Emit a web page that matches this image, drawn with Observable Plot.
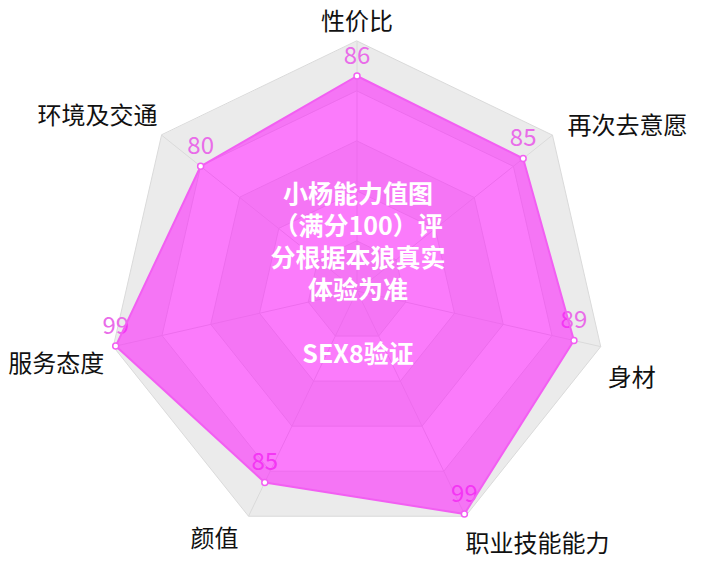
<!DOCTYPE html>
<html>
<head>
<meta charset="utf-8">
<script src="https://cdn.jsdelivr.net/npm/d3@7"></script>
<script src="https://cdn.jsdelivr.net/npm/@observablehq/plot@0.6"></script>
<style>
  html, body { margin: 0; padding: 0; background: #fff; }
  #chart { width: 707px; height: 583px; }
</style>
</head>
<body>
<div id="chart"></div>
<script>
// ---- data ----
const axes = ["性价比", "再次去意愿", "身材", "职业技能能力", "颜值", "服务态度", "环境及交通"];
const values = [86, 85, 89, 99, 85, 99, 80];
const levels = [100, 80, 60, 40, 20];
const maxValue = 100;
const titleLines = ["小杨能力值图", "（满分100）评", "分根据本狼真实", "体验为准", "", "SEX8验证"];

// ---- layout ----
const W = 707, H = 583;
const cx = 356.5, cy = 290.5, R = 250;
const k = R / maxValue; // pixels per unit
const font = "'Noto Sans CJK SC', 'Noto Sans', sans-serif";

function polar(i, v) {
  const a = 2 * Math.PI * i / axes.length;
  return { x: Math.sin(a) * v, y: Math.cos(a) * v };
}

const ringMarks = levels.map((L, j) => {
  const pts = axes.map((name, i) => ({ level: L, ...polar(i, L) }));
  return Plot.line(pts, {
    x: "x", y: "y", curve: "linear-closed",
    fill: j % 2 === 0 ? "#ebebeb" : "#f7f7f7",
    stroke: "#dadada", strokeWidth: 1
  });
});

const spokes = axes.map((name, i) => ({ name, x1: 0, y1: 0, ...polar(i, maxValue) }));
const dataPts = axes.map((name, i) => ({ name, value: values[i], ...polar(i, values[i]) }));

// axis-name placement relative to the outer vertex (pixels)
const nameLayout = [
  { anchor: "middle", dx: 0, dy: -20 },
  { anchor: "start", dx: 15, dy: -10 },
  { anchor: "start", dx: 7, dy: 31 },
  { anchor: "start", dx: 0, dy: 27 },
  { anchor: "end", dx: -10, dy: 22 },
  { anchor: "end", dx: -9, dy: 17 },
  { anchor: "end", dx: -4, dy: -20 }
];
const nameMarks = spokes.map((s, i) => Plot.text([s], {
  x: "x", y: "y", text: "name",
  textAnchor: nameLayout[i].anchor,
  dx: nameLayout[i].dx, dy: nameLayout[i].dy + 1,
  fontSize: 24, fill: "#111", fontFamily: font
}));

const chart = Plot.plot({
  width: W, height: H,
  margin: 0,
  x: { domain: [-cx / k, (W - cx) / k], axis: null },
  y: { domain: [(cy - H) / k, cy / k], axis: null },
  style: { fontFamily: font, background: "white", overflow: "visible" },
  marks: [
    ...ringMarks,
    Plot.link(spokes, { x1: "x1", y1: "y1", x2: "x", y2: "y", stroke: "#dadada", strokeWidth: 1 }),
    Plot.text(dataPts, {
      x: "x", y: "y", text: d => String(d.value), dy: -20,
      fontSize: 24, fill: "#e96ce9", fontFamily: font
    }),
    Plot.line(dataPts, {
      x: "x", y: "y", curve: "linear-closed",
      fill: "#ff00ff", fillOpacity: 0.5, stroke: "#f25ff2", strokeWidth: 2
    }),
    Plot.dot(dataPts, { x: "x", y: "y", r: 3, fill: "white", stroke: "#f25ff2", strokeWidth: 1.5 }),
    ...nameMarks,
    Plot.text([titleLines.join("\n")], {
      frameAnchor: "top", lineAnchor: "top", dx: 4, dy: 180,
      lineHeight: 32 / 25, fontSize: 25, fontWeight: "bold",
      fill: "white", fontFamily: font
    })
  ]
});
document.getElementById("chart").appendChild(chart);
</script>
</body>
</html>
